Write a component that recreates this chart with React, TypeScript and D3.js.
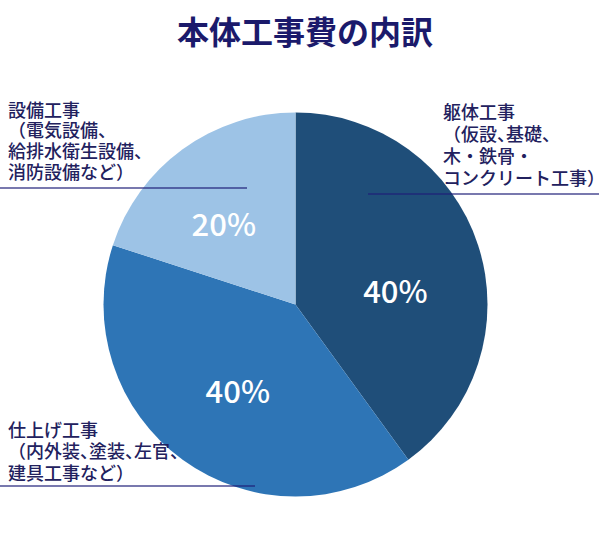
import React from "react";
import * as d3 from "d3";

const categories = ["躯体工事", "仕上げ工事", "設備工事"];
const values = [40, 40, 20];
const percentLabels = ["40%", "40%", "20%"];
const colors = ["#1f4e79", "#2e75b6", "#9dc3e6"];
const titleText = "本体工事費の内訳";

const labelLines = [
  ["躯体工事", "（仮設、基礎、", "木・鉄骨・", "コンクリート工事）"],
  ["仕上げ工事", "（内外装、塗装、左官、", "建具工事など）"],
  ["設備工事", "（電気設備、", "給排水衛生設備、", "消防設備など）"],
];

const W = 600;
const H = 541;
const cx = 295.5;
const cy = 304.5;
const R = 192;

// label layout (x, first line center y, line height, underline y, underline x0, x1)
const labelLayout = [
  { x: 443, y: 110.5, lh: 22.2, uy: 194, ux0: 368, ux1: 599 },
  { x: 8, y: 428.5, lh: 21.5, uy: 486, ux0: 0, ux1: 255 },
  { x: 8, y: 108.5, lh: 20.7, uy: 188, ux0: 0, ux1: 247 },
];
const pctOffset = [
  [0, 17],
  [4, 0],
  [-10, 3],
];

export default function App() {
  const pie = d3
    .pie<number>()
    .sort(null)
    .value((d) => d)
    .startAngle(0)
    .endAngle(2 * Math.PI);
  const arcs = pie(values);
  const arc = d3.arc<d3.PieArcDatum<number>>().innerRadius(0).outerRadius(R);
  const labelArc = d3
    .arc<d3.PieArcDatum<number>>()
    .innerRadius(210)
    .outerRadius(210);

  const font = "'Noto Sans CJK JP', 'Noto Sans', sans-serif";
  const fs = 18;

  return (
    <svg
      width={W}
      height={H}
      style={{ position: "fixed", left: 0, top: 0, background: "#fff" }}
    >
      <text
        x={W / 2 + 5}
        y={30}
        textAnchor="middle"
        dominantBaseline="central"
        fontFamily={font}
        fontWeight={700}
        fontSize={32}
        fill="#1b1a6b"
      >
        {titleText}
      </text>
      <g transform={`translate(${cx},${cy})`}>
        {arcs.map((a, i) => (
          <path key={categories[i]} d={arc(a) || ""} fill={colors[i]} />
        ))}
        {arcs.map((a, i) => {
          const [x, y] = labelArc.centroid(a);
          return (
            <text
              key={"p" + i}
              x={x / 2 + pctOffset[i][0]}
              y={y / 2 + pctOffset[i][1]}
              textAnchor="middle"
              dominantBaseline="central"
              fontFamily={font}
              fontWeight={500}
              fontSize={31}
              fill="#ffffff"
            >
              {percentLabels[i]}
            </text>
          );
        })}
      </g>
      {labelLines.map((lines, i) => {
        const L = labelLayout[i];
        return (
          <g key={"l" + i}>
            {lines.map((t, j) => {
              const midComma =
                t.indexOf("、") >= 0 && t.indexOf("、") < t.length - 1;
              return (
                <text
                  key={j}
                  x={L.x + (midComma ? fs / 2 : 0)}
                  y={L.y + j * L.lh}
                  dominantBaseline="central"
                  fontFamily={font}
                  fontWeight={500}
                  fontSize={fs}
                  fill="#22215e"
                  style={
                    midComma ? { fontFeatureSettings: "'halt'" } : undefined
                  }
                >
                  {t}
                </text>
              );
            })}
            <line
              x1={L.ux0}
              x2={L.ux1}
              y1={L.uy}
              y2={L.uy}
              stroke="#1e1e78"
              strokeOpacity={0.6}
              strokeWidth={2}
            />
          </g>
        );
      })}
    </svg>
  );
}
